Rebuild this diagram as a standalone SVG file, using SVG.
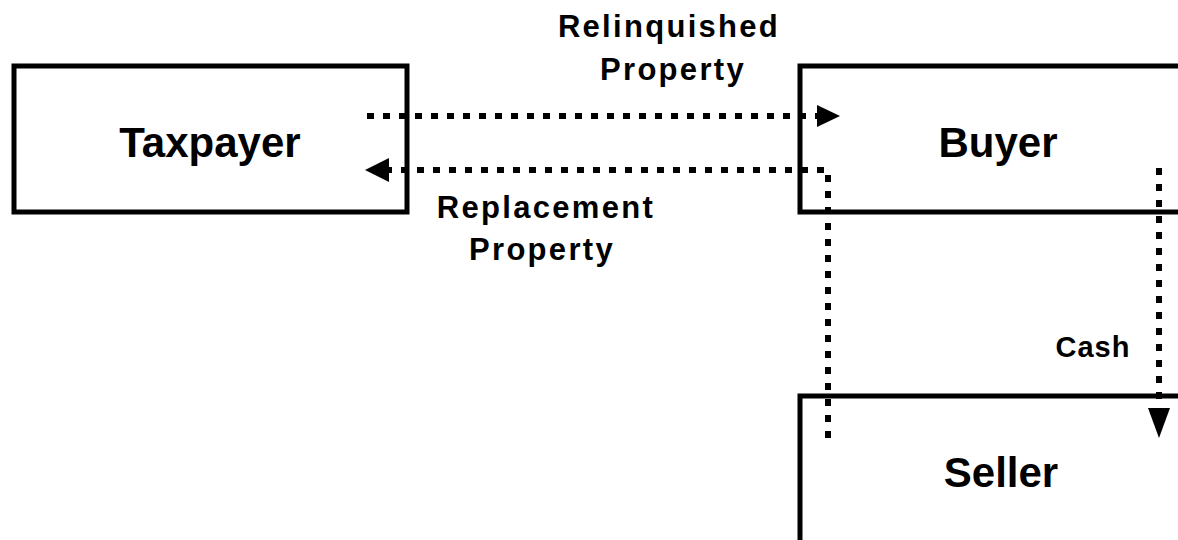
<svg xmlns="http://www.w3.org/2000/svg" width="1178" height="540" viewBox="0 0 1178 540">
<style>
.box{fill:#fff;stroke:#000;stroke-width:5}
.big{font-family:"Liberation Sans",Arial,sans-serif;font-weight:bold;font-size:42px;text-anchor:middle;fill:#000}
.lbl{font-family:"Liberation Sans",Arial,sans-serif;font-weight:bold;font-size:31px;letter-spacing:2.3px;text-anchor:middle;fill:#000}
.dash{fill:none;stroke:#000;stroke-width:6;stroke-dasharray:7 9}
.head{fill:#000}
</style>
<rect width="1178" height="540" fill="#fff"/>
<g id="taxpayer">
<rect class="box" x="14" y="66" width="393" height="146"/>
<text class="big" x="210" y="157">Taxpayer</text>
</g>
<g id="buyer">
<rect class="box" x="800" y="66" width="400" height="146"/>
<text class="big" x="998" y="157">Buyer</text>
</g>
<g id="seller">
<rect class="box" x="800" y="396" width="400" height="200"/>
<text class="big" x="1001" y="487">Seller</text>
</g>
<g id="connectors">
<path class="dash" d="M367,116 H817"/>
<polygon class="head" points="817,105 840,116 817,127"/>
<path class="dash" d="M828,438 V170 H389"/>
<polygon class="head" points="389,158 365,170 389,182"/>
<path class="dash" d="M1159,168 V408"/>
<polygon class="head" points="1148,408 1159,438 1170,408"/>
</g>
<g id="labels">
<text class="lbl" x="669" y="37">Relinquished</text>
<text class="lbl" x="673" y="80">Property</text>
<text class="lbl" x="546" y="218">Replacement</text>
<text class="lbl" x="542" y="260">Property</text>
<text class="lbl" x="1093" y="357" style="font-size:29px;letter-spacing:1px">Cash</text>
</g>
</svg>
